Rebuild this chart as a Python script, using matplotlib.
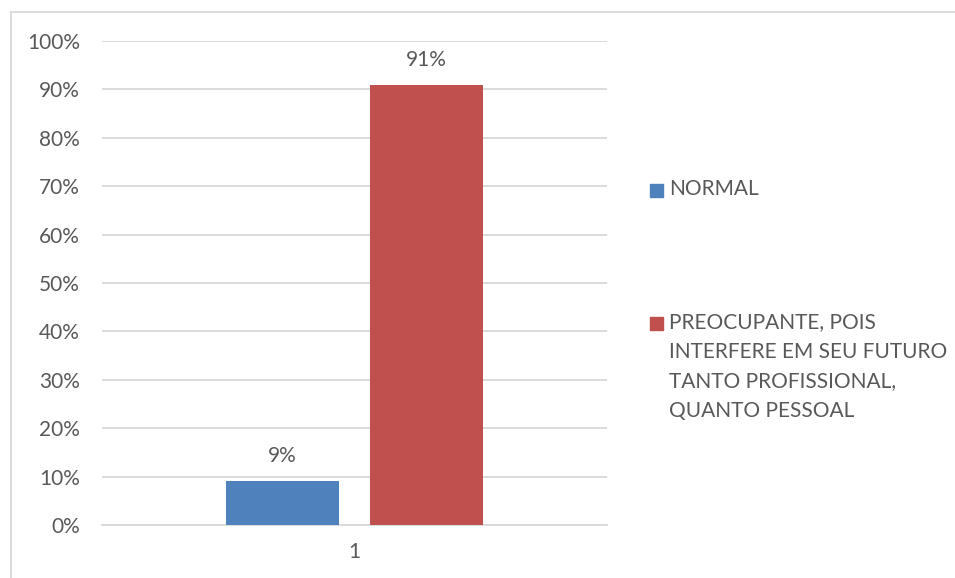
import matplotlib.pyplot as plt
from matplotlib.patches import Rectangle
from matplotlib.ticker import PercentFormatter

categories = ['1']
series_names = ['NORMAL',
                'PREOCUPANTE, POIS\nINTERFERE EM SEU FUTURO\nTANTO PROFISSIONAL,\nQUANTO PESSOAL']
values = [9, 91]
colors = ['#4f81bd', '#c0504d']
text_color = '#595959'

plt.rcParams['font.family'] = ['Lato', 'DejaVu Sans']

fig = plt.figure(figsize=(9.55, 5.78), dpi=100)
W, H = 955, 578
ax = fig.add_axes([102 / W, 1 - 525 / H, (607 - 102) / W, (525 - 41) / H])

offsets = [-0.1426, 0.1426]
width = 0.222
for name, v, c, off in zip(series_names, values, colors, offsets):
    ax.bar(1 + off, v, width=width, color=c, zorder=3)
    ax.annotate(f'{v}%', (1 + off, v), xytext=(0, 18), textcoords='offset points',
                ha='center', va='center', fontsize=15, color=text_color)

ax.set_xlim(0.5, 1.5)
ax.set_ylim(0, 100)
ax.set_yticks(range(0, 101, 10))
ax.yaxis.set_major_formatter(PercentFormatter(decimals=0))
ax.set_xticks([1])
ax.set_xticklabels(categories)
ax.grid(axis='y', color='#d9d9d9', linewidth=1.3, zorder=0)
for s in ['top', 'right', 'left']:
    ax.spines[s].set_visible(False)
ax.spines['bottom'].set_color('#d9d9d9')
ax.spines['bottom'].set_linewidth(1.3)
ax.tick_params(length=0, labelsize=15, colors=text_color)
ax.tick_params(axis='y', pad=16)
ax.tick_params(axis='x', pad=12)

# legend drawn by hand so the square sits on the first line
leg_y = [190, 323]
for name, c, y in zip(series_names, colors, leg_y):
    fig.patches.append(Rectangle((650 / W, 1 - (y + 7) / H), 13 / W, 13 / H,
                                 transform=fig.transFigure, color=c))
    fig.text(669 / W, 1 - (y - 11) / H, name, ha='left', va='top', fontsize=15,
             color=text_color, linespacing=1.6)

# chart border
fig.patches.append(Rectangle((10.5 / W, -0.05), 1.1, 1 - 11.5 / H + 0.05,
                             transform=fig.transFigure, fill=False,
                             edgecolor='#d9d9d9', linewidth=1.3))

fig.savefig('out.png', dpi=100)
